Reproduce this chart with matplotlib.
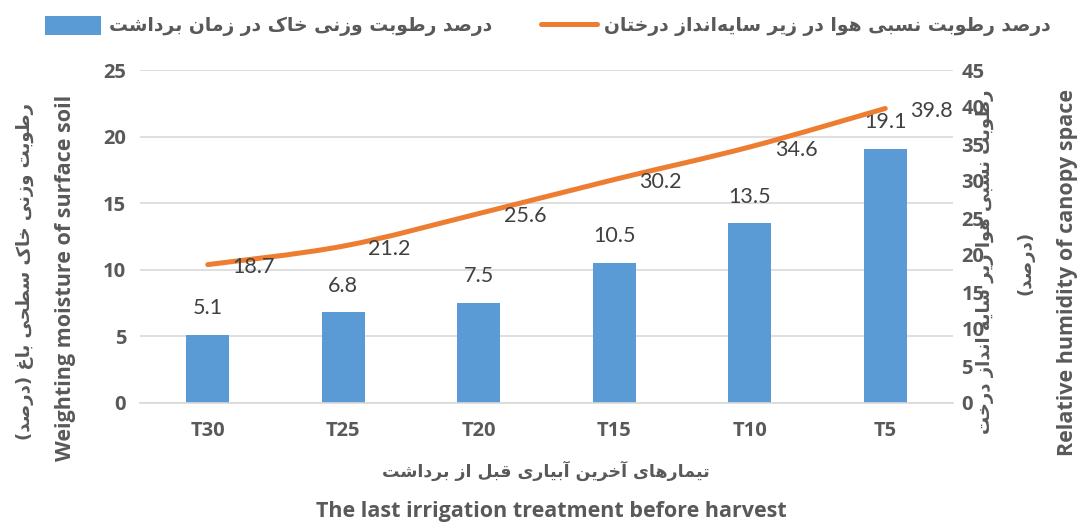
import matplotlib
matplotlib.use('Agg')
import matplotlib.pyplot as plt
from matplotlib.path import Path
from matplotlib.patches import PathPatch
from matplotlib.lines import Line2D
import numpy as np

# ---------------- data ----------------
categories = ['T30', 'T25', 'T20', 'T15', 'T10', 'T5']
soil_moisture = [5.1, 6.8, 7.5, 10.5, 13.5, 19.1]
air_humidity = [18.7, 21.2, 25.6, 30.2, 34.6, 39.8]
left_ticks = [0, 5, 10, 15, 20, 25]
right_ticks = [0, 5, 10, 15, 20, 25, 30, 35, 40, 45]

legend_soil = 'درصد رطوبت وزنی خاک در زمان برداشت'
legend_air = 'درصد رطوبت نسبی هوا در زیر سایه\u200cانداز درختان'
ylabel_left_fa = 'رطوبت وزنی خاک سطحی باغ (درصد)'
ylabel_left_en = 'Weighting moisture of surface soil'
ylabel_right_fa = 'رطوبت نسبی هوا زیر سایه انداز درخت'
ylabel_right_fa2 = '(درصد)'
ylabel_right_en = 'Relative humidity of canopy space'
xlabel_fa = 'تیمارهای آخرین آبیاری قبل از برداشت'
xlabel_en = 'The last irrigation treatment before harvest'

# ------------- minimal Persian shaping (presentation forms + RTL) -------------
FORMS = {
    '\u0627': (0xFE8D, 0xFE8E),
    '\u0622': (0xFE81, 0xFE82),
    '\u0628': (0xFE8F, 0xFE90, 0xFE91, 0xFE92),
    '\u062A': (0xFE95, 0xFE96, 0xFE97, 0xFE98),
    '\u062D': (0xFEA1, 0xFEA2, 0xFEA3, 0xFEA4),
    '\u062E': (0xFEA5, 0xFEA6, 0xFEA7, 0xFEA8),
    '\u062F': (0xFEA9, 0xFEAA),
    '\u0631': (0xFEAD, 0xFEAE),
    '\u0632': (0xFEAF, 0xFEB0),
    '\u0633': (0xFEB1, 0xFEB2, 0xFEB3, 0xFEB4),
    '\u0634': (0xFEB5, 0xFEB6, 0xFEB7, 0xFEB8),
    '\u0635': (0xFEB9, 0xFEBA, 0xFEBB, 0xFEBC),
    '\u0637': (0xFEC1, 0xFEC2, 0xFEC3, 0xFEC4),
    '\u063A': (0xFECD, 0xFECE, 0xFECF, 0xFED0),
    '\u0642': (0xFED5, 0xFED6, 0xFED7, 0xFED8),
    '\u0644': (0xFEDD, 0xFEDE, 0xFEDF, 0xFEE0),
    '\u0645': (0xFEE1, 0xFEE2, 0xFEE3, 0xFEE4),
    '\u0646': (0xFEE5, 0xFEE6, 0xFEE7, 0xFEE8),
    '\u0647': (0xFEE9, 0xFEEA, 0xFEEB, 0xFEEC),
    '\u0648': (0xFEED, 0xFEEE),
    '\u06CC': (0xFBFC, 0xFBFD, 0xFBFE, 0xFBFF),
    '\u06A9': (0xFB8E, 0xFB8F, 0xFB90, 0xFB91),
}
MIRROR = {'(': ')', ')': '('}


def fa(text):
    text = text.replace('\u064A', '\u06CC').replace('\u0643', '\u06A9')
    out = []
    n = len(text)
    for i, ch in enumerate(text):
        if ch == '\u200c':
            continue
        if ch not in FORMS:
            out.append(MIRROR.get(ch, ch))
            continue
        prev = text[i - 1] if i > 0 else ''
        nxt = text[i + 1] if i + 1 < n else ''
        jp = prev in FORMS and len(FORMS[prev]) == 4
        jn = len(FORMS[ch]) == 4 and nxt in FORMS
        f = FORMS[ch]
        if jp and jn:
            cp = f[3]
        elif jp:
            cp = f[1]
        elif jn:
            cp = f[2]
        else:
            cp = f[0]
        out.append(chr(cp))
    return ''.join(reversed(out))


# ---------------- style ----------------
BAR = '#5B9BD5'
LINE = '#ED7D31'
TXT = '#595959'
LBL = '#404040'
GRID = '#D9D9D9'
EN = 'Open Sans'
NUM = 'Lato'
FA = 'DejaVu Sans'

W, H = 1080, 526
fig = plt.figure(figsize=(W / 100, H / 100), dpi=100)


def fx(px):
    return px / W


def fy(py):
    return 1 - py / H


ax = fig.add_axes([fx(140), fy(403), fx(953) - fx(140), fy(70) - fy(403)])
x = np.arange(len(categories))

bars = ax.bar(x, soil_moisture, width=0.32, color=BAR, zorder=2)
ax.set_xlim(-0.5, len(categories) - 0.5)
ax.set_ylim(0, 25)
ax.set_yticks(left_ticks)
ax.set_xticks(x)
ax.set_xticklabels(categories)
ax.yaxis.grid(True, color=GRID, lw=1.2, zorder=0)
ax.set_axisbelow(True)
for s in ['top', 'right', 'left']:
    ax.spines[s].set_visible(False)
ax.spines['bottom'].set_color(GRID)
ax.spines['bottom'].set_linewidth(1.2)
ax.tick_params(axis='both', length=0, colors=TXT)
ax.tick_params(axis='y', pad=10)
ax.tick_params(axis='x', pad=13)
for t in ax.get_xticklabels() + ax.get_yticklabels():
    t.set_fontfamily(EN)
    t.set_fontweight('bold')
    t.set_fontsize(14.5)
    t.set_color(TXT)

for xi, v in zip(x, soil_moisture):
    ax.annotate(f'{v:.1f}', (xi, v), xytext=(0, 12), textcoords='offset points',
                ha='center', va='bottom', fontsize=15.5, color=LBL,
                fontfamily=NUM, zorder=4)

ax2 = ax.twinx()
ax2.set_ylim(0, 45)
ax2.set_yticks(right_ticks)

# smoothed line (Excel-style cubic Bezier through the data points)
px = np.asarray(x, dtype=float)
py = np.asarray(air_humidity, dtype=float)
verts = [(px[0], py[0])]
codes = [Path.MOVETO]
nn = len(px)
for i in range(nn - 1):
    p0 = np.array([px[max(i - 1, 0)], py[max(i - 1, 0)]])
    p1 = np.array([px[i], py[i]])
    p2 = np.array([px[i + 1], py[i + 1]])
    p3 = np.array([px[min(i + 2, nn - 1)], py[min(i + 2, nn - 1)]])
    c1 = p1 + (p2 - p0) / 6.0
    c2 = p2 - (p3 - p1) / 6.0
    verts += [tuple(c1), tuple(c2), tuple(p2)]
    codes += [Path.CURVE4, Path.CURVE4, Path.CURVE4]
ax2.add_patch(PathPatch(Path(verts, codes), facecolor='none', edgecolor=LINE,
                        lw=3.6, capstyle='round', joinstyle='round', zorder=3))
line = Line2D([], [], color=LINE, lw=3.6, solid_capstyle='round')

for s in ['top', 'right', 'left', 'bottom']:
    ax2.spines[s].set_visible(False)
ax2.tick_params(axis='y', length=0, colors=TXT, pad=6)
for t in ax2.get_yticklabels():
    t.set_fontfamily(EN)
    t.set_fontweight('bold')
    t.set_fontsize(14.5)
    t.set_color(TXT)

for xi, v in zip(x, air_humidity):
    ax2.annotate(f'{v:.1f}', (xi, v), xytext=(18, -2), textcoords='offset points',
                 ha='left', va='center', fontsize=15.5, color=LBL,
                 fontfamily=NUM, zorder=4)

# ---------------- axis titles ----------------
fig.text(fx(25), fy(272), fa(ylabel_left_fa), rotation=90, ha='center', va='center',
         fontsize=13, fontweight='bold', color=TXT, fontfamily=FA)
fig.text(fx(66), fy(278), ylabel_left_en, rotation=90, ha='center', va='center',
         fontsize=15.5, fontweight='bold', color=TXT, fontfamily=EN)
fig.text(fx(985), fy(262), fa(ylabel_right_fa), rotation=90, ha='center', va='center',
         fontsize=13, fontweight='bold', color=TXT, fontfamily=FA)
fig.text(fx(1025), fy(263), fa(ylabel_right_fa2), rotation=90, ha='center', va='center',
         fontsize=13, fontweight='bold', color=TXT, fontfamily=FA)
fig.text(fx(1068), fy(272), ylabel_right_en, rotation=90, ha='center', va='center',
         fontsize=15.5, fontweight='bold', color=TXT, fontfamily=EN)
fig.text(fx(546), fy(471), fa(xlabel_fa), ha='center', va='center',
         fontsize=12.5, fontweight='bold', color=TXT, fontfamily=FA)
fig.text(fx(551), fy(512), xlabel_en, ha='center', va='center',
         fontsize=15.5, fontweight='bold', color=TXT, fontfamily=EN)

# ---------------- legend ----------------
leg = fig.legend(handles=[bars, line], labels=[fa(legend_soil), fa(legend_air)],
                 loc='center', bbox_to_anchor=(fx(548), fy(26)), ncol=2,
                 frameon=False, handlelength=3.0, handleheight=1.2,
                 handletextpad=0.4, columnspacing=2.6,
                 prop={'family': FA, 'weight': 'bold', 'size': 13.5})
for t in leg.get_texts():
    t.set_color(TXT)

fig.savefig('out.png', dpi=100)
